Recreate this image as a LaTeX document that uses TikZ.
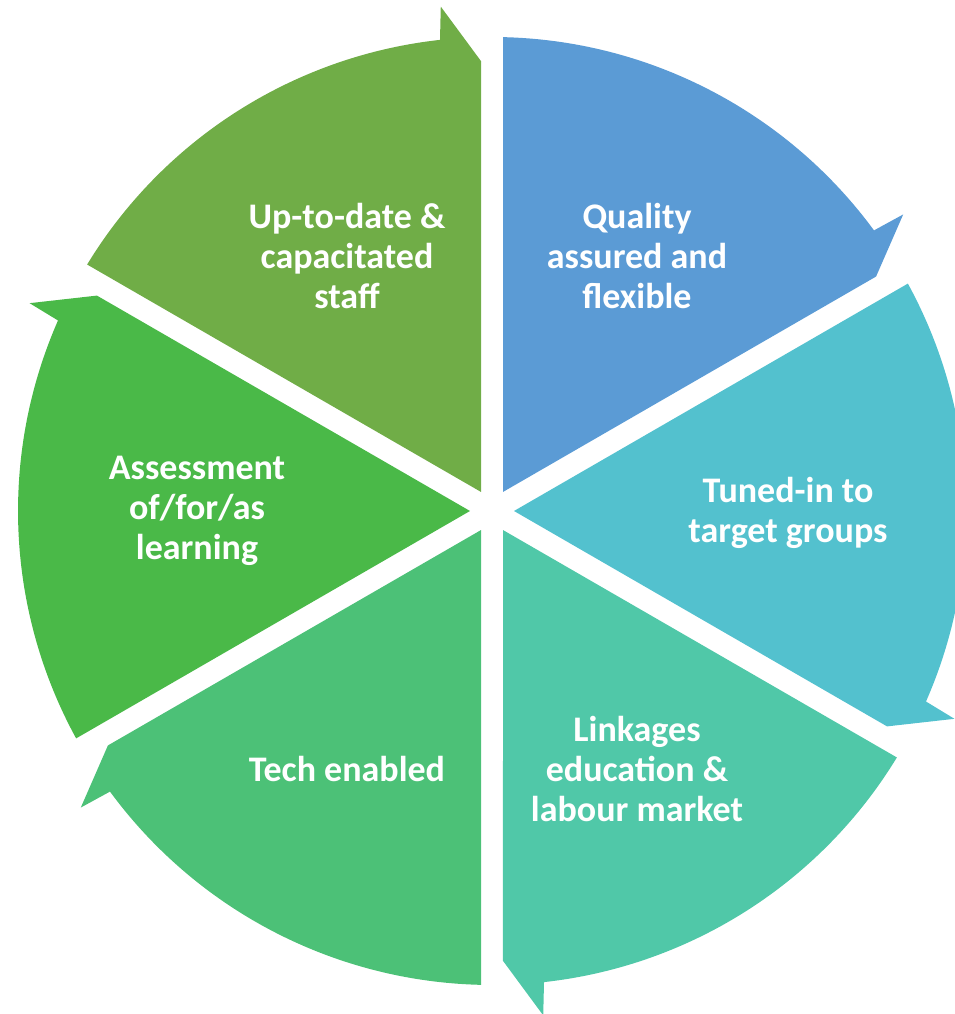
\documentclass[tikz,border=0pt]{standalone}
\usepackage{fontspec}
\setmainfont{Carlito}
\definecolor{cOlive}{RGB}{112,173,71}
\definecolor{cBlue}{RGB}{91,155,213}
\definecolor{cTeal}{RGB}{83,193,206}
\definecolor{cTealG}{RGB}{80,200,168}
\definecolor{cGreen}{RGB}{76,193,119}
\definecolor{cBright}{RGB}{74,185,72}
\tikzset{
  lbl/.style={text=white, align=center, font=\bfseries\fontsize{36}{40}\selectfont, inner sep=0pt}
}
\begin{document}
\begin{tikzpicture}[x=1pt,y=1pt]
\useasboundingbox (0,0) rectangle (955,1014);
\clip (0,0) rectangle (955,1014);
\begin{scope}[shift={(492,503)}]
\foreach \a/\col in {150/cOlive, 90/cBlue, 30/cTeal, -30/cTealG, -90/cGreen, -150/cBright} {
  \pgfmathsetmacro\sa{\a-1.33}
  \pgfmathsetmacro\ea{\a-60+6.3}
  \pgfmathsetmacro\ba{\a-60+5.8}
  \pgfmathsetmacro\ta{\a-60+1.4}
  \pgfmathsetmacro\ma{\a-30}
  \fill[\col] (\sa:474) arc[start angle=\sa, end angle=\ea, radius=474pt]
     -- (\ba:507) -- (\ta:450) -- (\ma:22) -- cycle;
}
\end{scope}
\node[lbl] (staff) at (347,758) {Up-to-date \&\\capacitated\\staff};
\node[lbl] (quality) at (637,758) {Quality\\assured and\\flexible};
\node[lbl] (tuned) at (788,501) {Tuned-in to\\target groups};
\node[lbl] (link) at (637,245) {Linkages\\education \&\\labour market};
\node[lbl] (tech) at (347,245) {Tech enabled};
\node[lbl] (assess) at (197,503) {Assessment\\of/for/as\\learning};
\end{tikzpicture}
\end{document}
